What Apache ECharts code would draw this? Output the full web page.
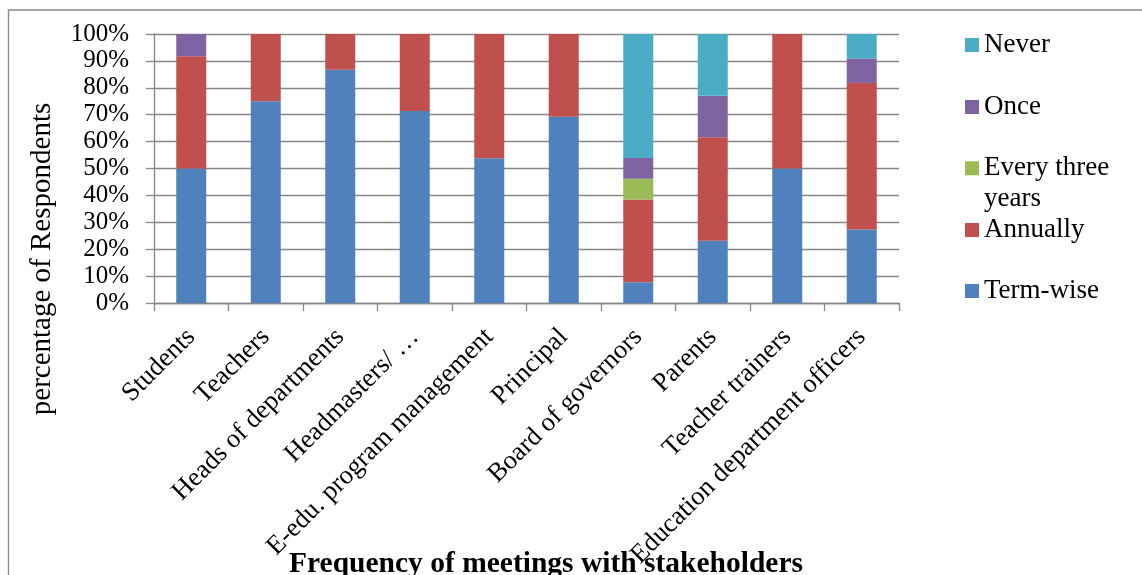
<!DOCTYPE html>
<html>
<head>
<meta charset="utf-8">
<script src="https://cdn.jsdelivr.net/npm/echarts@6/dist/echarts.min.js"></script>
<style>
  html, body { margin: 0; padding: 0; background: #fff; }
  #chart { width: 1142px; height: 575px; }
</style>
</head>
<body>
<div id="chart"></div>
<script>
// Stakeholder groups on the category axis
const categories = [
  'Students', 'Teachers', 'Heads of departments', 'Headmasters/ \u2026',
  'E-edu. program management', 'Principal', 'Board of governors',
  'Parents', 'Teacher trainers', 'Education department officers'
];

// Share of respondents (%) per meeting frequency
const termWise   = [50, 75, 86.7, 71.4, 53.8, 69.2, 7.7, 23.1, 50, 27.3];
const annually   = [41.7, 25, 13.3, 28.6, 46.2, 30.8, 30.8, 38.5, 50, 54.5];
const everyThree = [0, 0, 0, 0, 0, 0, 7.7, 0, 0, 0];
const once       = [8.3, 0, 0, 0, 0, 0, 7.7, 15.4, 0, 9.1];
const never      = [0, 0, 0, 0, 0, 0, 46.1, 23.0, 0, 9.1];

const yTicks = [0, 10, 20, 30, 40, 50, 60, 70, 80, 90, 100];

const FONT = '"Liberation Serif", "Times New Roman", serif';
const GRID_GRAY = '#868686';

const seriesDefs = [
  { name: 'Term-wise', data: termWise, color: '#4F81BD' },
  { name: 'Annually', data: annually, color: '#C0504D' },
  { name: 'Every three years', data: everyThree, color: '#9BBB59' },
  { name: 'Once', data: once, color: '#8064A2' },
  { name: 'Never', data: never, color: '#4BACC6' }
];

// One legend block per entry so each row sits at its own height
const legendRows = [
  { name: 'Never', top: 29.5 },
  { name: 'Once', top: 91.5 },
  { name: 'Every three years', top: 121.8, text: '\nEvery three\nyears' },
  { name: 'Annually', top: 214.5 },
  { name: 'Term-wise', top: 275.5 }
];

const chart = echarts.init(document.getElementById('chart'), null, { renderer: 'canvas' });

chart.setOption({
  animation: false,
  backgroundColor: '#fff',
  grid: { left: 154, right: 243, top: 34, bottom: 272 },
  legend: legendRows.map(r => ({
    data: [r.name],
    left: 965,
    top: r.top,
    padding: 0,
    itemWidth: 14,
    itemHeight: 14,
    itemGap: 0,
    icon: 'rect',
    selectedMode: false,
    formatter: () => r.text || r.name,
    textStyle: { fontFamily: FONT, fontSize: 27, color: '#000', lineHeight: 31, padding: [0, 0, 0, 0] }
  })),
  xAxis: {
    type: 'category',
    data: categories,
    axisLine: { show: true, lineStyle: { color: GRID_GRAY, width: 1.3 } },
    axisTick: { show: true, length: 8, alignWithLabel: false, lineStyle: { color: GRID_GRAY, width: 1.3 } },
    axisLabel: {
      interval: 0,
      rotate: 45,
      margin: 30,
      fontFamily: FONT,
      fontSize: 26.5,
      color: '#000'
    }
  },
  yAxis: {
    type: 'value',
    min: 0,
    max: 100,
    interval: 10,
    axisLine: { show: true, lineStyle: { color: GRID_GRAY, width: 1.3 } },
    axisTick: { show: true, length: 8, inside: false, lineStyle: { color: GRID_GRAY, width: 1.3 } },
    splitLine: { show: true, lineStyle: { color: GRID_GRAY, width: 1.3 } },
    axisLabel: {
      margin: 25,
      fontFamily: FONT,
      fontSize: 25,
      color: '#000',
      formatter: v => (yTicks.indexOf(v) >= 0 ? v + '%' : '')
    }
  },
  series: seriesDefs.map(s => ({
    name: s.name,
    type: 'bar',
    stack: 'total',
    barWidth: 30,
    data: s.data,
    itemStyle: { color: s.color },
    emphasis: { disabled: true }
  })),
  graphic: [
    {
      type: 'rect',
      silent: true,
      shape: { x: 8.5, y: 10, width: 1300, height: 800 },
      style: { fill: 'none', stroke: '#8a8a8a', lineWidth: 1.4 }
    },
    {
      type: 'text',
      silent: true,
      x: 42,
      y: 259,
      rotation: Math.PI / 2,
      style: {
        text: 'percentage of Respondents',
        fontFamily: FONT,
        fontSize: 29,
        fill: '#000',
        textAlign: 'center',
        textVerticalAlign: 'middle'
      }
    },
    {
      type: 'text',
      silent: true,
      x: 546,
      y: 564,
      style: {
        text: 'Frequency of meetings with stakeholders',
        fontFamily: FONT,
        fontSize: 29.5,
        fontWeight: 'bold',
        fill: '#000',
        textAlign: 'center',
        textVerticalAlign: 'middle'
      }
    }
  ]
});
</script>
</body>
</html>
